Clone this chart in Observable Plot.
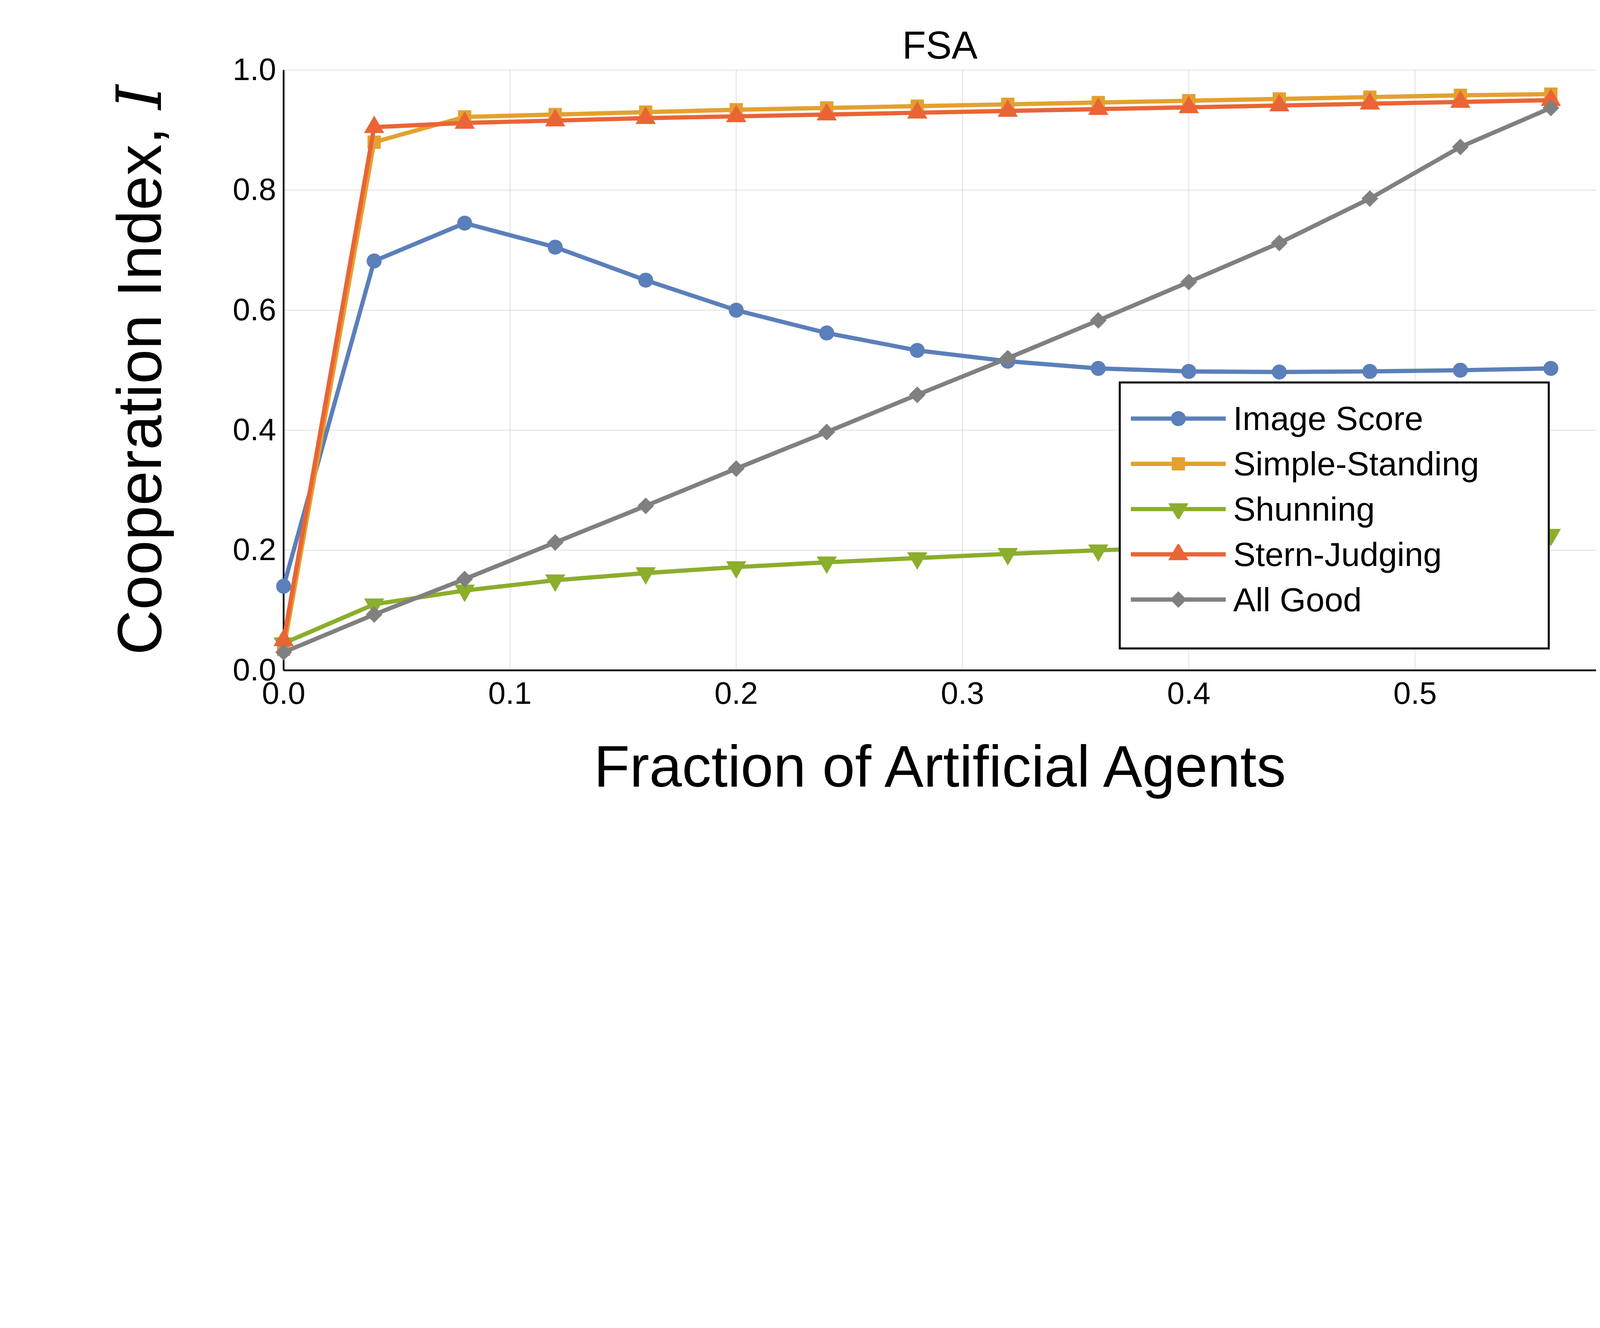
<!DOCTYPE html>
<html><head><meta charset="utf-8">
<script src="https://cdn.jsdelivr.net/npm/d3@7"></script>
<script src="https://cdn.jsdelivr.net/npm/@observablehq/plot@0.6"></script>
<style>
html,body{margin:0;background:#fff;font-family:"Liberation Sans",Arial,sans-serif;overflow:hidden}
#wrap{position:relative;width:6400px;height:3400px;transform-origin:0 0}
#wrap > svg{width:6400px;height:3400px;max-width:none}
#ylab{position:absolute;left:557px;top:1480px;transform:translate(-50%,-50%) rotate(-90deg);font-size:250px;white-space:nowrap}
#legend{position:absolute;left:4475px;top:1526px;width:1724px;height:1072px;border:8px solid #000;background:#fff;box-sizing:border-box}
.row{position:absolute;left:40px;height:180px;display:flex;align-items:center;font-size:134px}
.row svg{margin-right:30px}
</style></head>
<body><div id="wrap"><div id="ylab">Cooperation Index, <i style="font-family:'DejaVu Serif',serif">I</i></div></div>
<script>
const fractions = [0, 0.04, 0.08, 0.12, 0.16, 0.2, 0.24, 0.28, 0.32, 0.36, 0.4, 0.44, 0.48, 0.52, 0.56];
const imageScore = [0.14, 0.682, 0.745, 0.705, 0.65, 0.60, 0.562, 0.533, 0.515, 0.503, 0.498, 0.497, 0.498, 0.500, 0.503];
const simpleStanding = [0.035, 0.88, 0.922, 0.926, 0.930, 0.934, 0.937, 0.940, 0.943, 0.946, 0.949, 0.952, 0.955, 0.958, 0.960];
const shunning = [0.045, 0.11, 0.133, 0.150, 0.162, 0.172, 0.180, 0.187, 0.194, 0.200, 0.205, 0.210, 0.215, 0.220, 0.226];
const sternJudging = [0.05, 0.905, 0.912, 0.916, 0.920, 0.923, 0.926, 0.929, 0.932, 0.935, 0.938, 0.941, 0.944, 0.947, 0.950];
const allGood = [0.03, 0.093, 0.152, 0.213, 0.274, 0.336, 0.397, 0.459, 0.52, 0.583, 0.647, 0.712, 0.786, 0.872, 0.937];

const series = [
  {name: "Image Score", values: imageScore, color: "#5B7FBA", symbol: "circle", rotate: 0},
  {name: "Simple-Standing", values: simpleStanding, color: "#E3A12F", symbol: "square", rotate: 0},
  {name: "Shunning", values: shunning, color: "#8BAE2C", symbol: "triangle", rotate: 180},
  {name: "Stern-Judging", values: sternJudging, color: "#EA6436", symbol: "triangle", rotate: 0},
  {name: "All Good", values: allGood, color: "#808080", symbol: "diamond2", rotate: 0}
];

const marks = [
  Plot.gridX([0, 0.1, 0.2, 0.3, 0.4, 0.5], {stroke: "#000", strokeOpacity: 0.1, strokeWidth: 4}),
  Plot.gridY([0, 0.2, 0.4, 0.6, 0.8, 1.0], {stroke: "#000", strokeOpacity: 0.1, strokeWidth: 4}),
  Plot.axisX({ticks: [0, 0.1, 0.2, 0.3, 0.4, 0.5], tickFormat: d3.format(".1f"), tickSize: 0, tickPadding: 45, label: null, fontSize: 125}),
  Plot.axisY({ticks: [0, 0.2, 0.4, 0.6, 0.8, 1.0], tickFormat: d3.format(".1f"), tickSize: 0, tickPadding: 30, label: null, fontSize: 125}),
  Plot.ruleX([0], {strokeWidth: 7}),
  Plot.ruleY([0], {strokeWidth: 7})
];
for (const s of series) {
  const rows = fractions.map((x, i) => ({x, y: s.values[i]}));
  marks.push(Plot.line(rows, {x: "x", y: "y", stroke: s.color, strokeWidth: 17}));
  marks.push(Plot.dot(rows, {x: "x", y: "y", fill: s.color, symbol: s.symbol, r: 30, rotate: s.rotate}));
}
marks.push(Plot.text(["FSA"], {frameAnchor: "top", dy: -156, fontSize: 155, text: d => d}));
marks.push(Plot.text(["Fraction of Artificial Agents"], {frameAnchor: "bottom", dy: 466, fontSize: 235, text: d => d}));

const chart = Plot.plot({
  width: 6400, height: 3400,
  marginLeft: 1134, marginRight: 16, marginTop: 280, marginBottom: 719,
  x: {domain: [0, 0.58]},
  y: {domain: [0, 1]},
  style: {fontFamily: "Liberation Sans, Arial, sans-serif", color: "#000"},
  marks
});
const wrap = document.getElementById("wrap");
wrap.prepend(chart);

const legend = document.createElement("div");
legend.id = "legend";
series.forEach((s, i) => {
  const row = document.createElement("div");
  row.className = "row";
  row.style.top = (50 + i * 181) + "px";
  const sw = Plot.plot({
    width: 380, height: 80, margin: 0, axis: null,
    x: {domain: [0, 1]}, y: {domain: [0, 1]},
    marks: [
      Plot.ruleY([0.5], {stroke: s.color, strokeWidth: 17}),
      Plot.dot([0.5], {x: d => d, y: 0.5, fill: s.color, symbol: s.symbol, r: 30, rotate: s.rotate})
    ]
  });
  row.appendChild(sw);
  row.appendChild(document.createTextNode(s.name));
  legend.appendChild(row);
});
wrap.appendChild(legend);

// fit the 6400-wide drawing into whatever viewport the page gets
const fit = () => {
  const s = Math.min(window.innerWidth / 6400, window.innerHeight / 3400);
  wrap.style.transform = s < 1 ? `scale(${s})` : "none";
};
fit();
window.addEventListener("resize", fit);
</script></body></html>
